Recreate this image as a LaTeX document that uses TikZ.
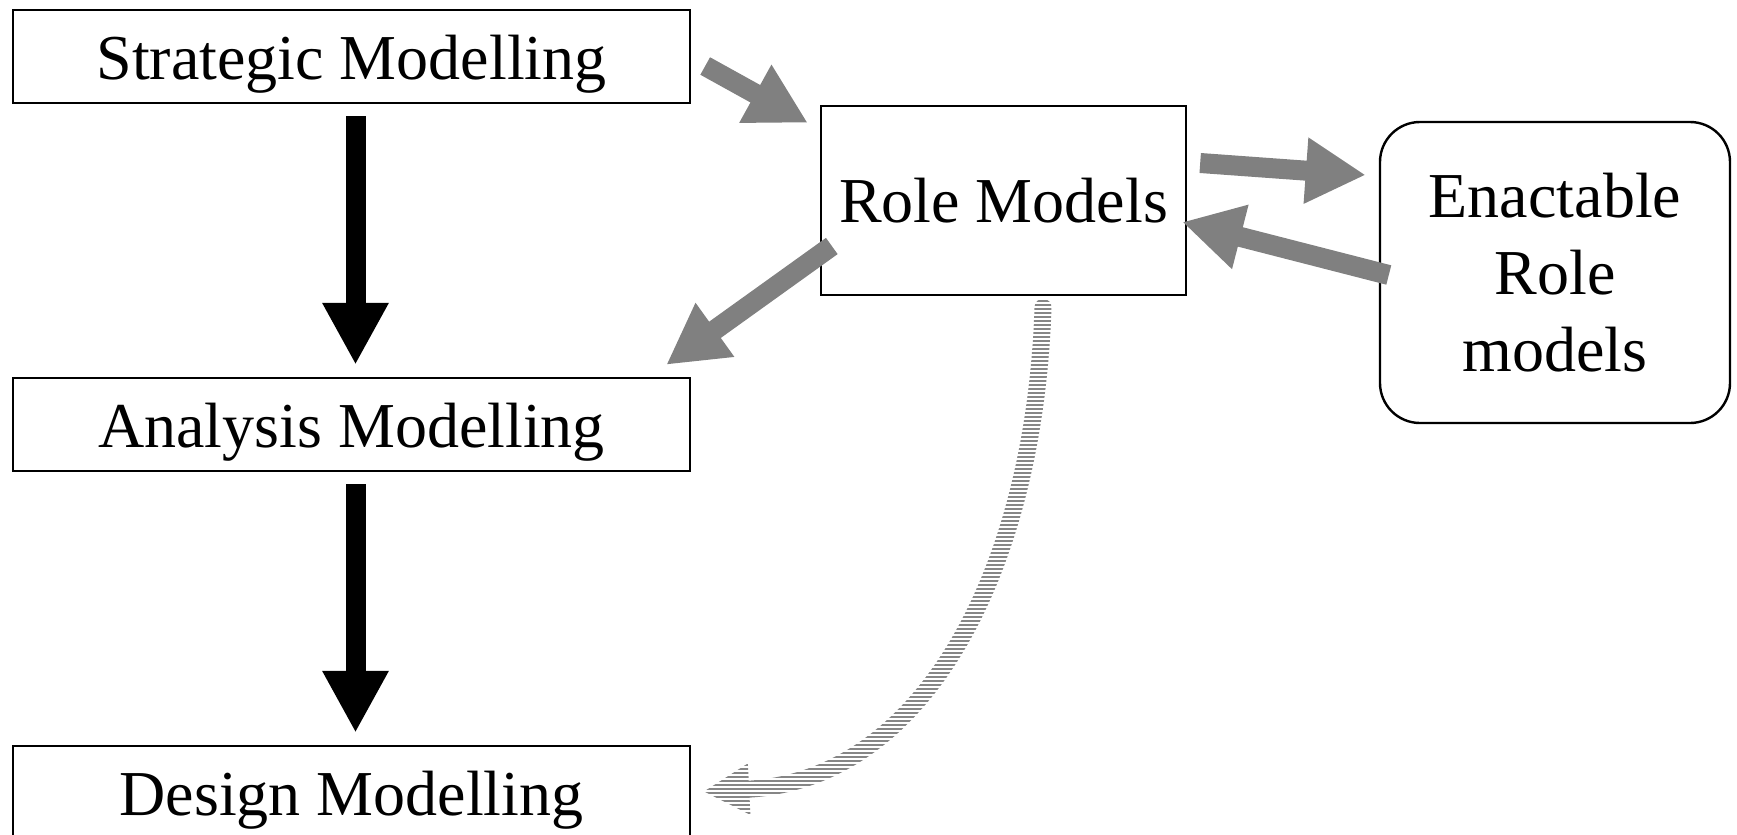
\documentclass[tikz,border=0pt]{standalone}
\usepackage{fontspec}
\setmainfont{Liberation Serif}
\usetikzlibrary{arrows.meta,patterns.meta}

\begin{document}
\begin{tikzpicture}[x=0.5pt,y=-0.5pt,font=\fontsize{32}{38.5}\selectfont,
  model/.style={draw,line width=1.2pt,minimum width=338.5pt,minimum height=46.5pt,inner sep=0pt,text height=30pt,text depth=7pt},
  down/.style={line width=10pt,-{Triangle[length=31pt,width=31pt]}},
  flow/.style={line width=10pt,gray,-{Triangle[length=30pt,width=31pt]}},
  hatched/.style={line width=8.5pt,gray!95,line cap=round,-{Triangle[length=23pt,width=24pt]}}]
  \useasboundingbox (0,0) rectangle (1737,835);
  \node[model] (SM) at (351.5,56.5) {Strategic Modelling};
  \node[model] (AM) at (351.5,424.5) {Analysis Modelling};
  \node[model] (DM) at (351.5,792.5) {Design Modelling};
  \node[draw,line width=1.2pt,minimum width=182.5pt,minimum height=94.5pt,inner sep=0pt] (RM) at (1003.5,200.5) {Role Models};
  \node[draw,line width=1.2pt,rounded corners=20pt,minimum width=175pt,minimum height=150.5pt,inner sep=0pt,align=center] (ERM) at (1555,272.5) {Enactable\\Role\\models};
  \coordinate (tip) at ([xshift=6pt,yshift=0.5pt]DM.east);
  % hatched connector
  \draw[hatched] ([xshift=19.75pt,yshift=-5.5pt]RM.south) .. controls (1035,560) and (930,780) .. (tip);
  \fill[pattern={Lines[angle=0,distance=2pt,line width=0.8pt]},pattern color=white,fill opacity=0.7] (694,298) rectangle (1070,815);
  \draw[down] ([xshift=2pt]SM.south) ++(0,12) -- ([xshift=2pt,yshift=6pt]AM.north);
  \draw[down] ([xshift=2pt]AM.south) ++(0,12) -- ([xshift=2pt,yshift=6pt]DM.north);
  \draw[flow] ([xshift=7pt,yshift=-4.75pt]SM.east) -- ([xshift=-6pt,yshift=-9pt]RM.north west);
  \draw[flow] ([xshift=6.5pt,yshift=18.75pt]RM.east) -- ([xshift=-6.5pt,yshift=48.75pt]ERM.west);
  \draw[flow] ([xshift=5pt,yshift=-1.25pt]ERM.west) -- ([xshift=-2.5pt,yshift=-10.75pt]RM.east);
  \draw[flow] ([xshift=6pt,yshift=-22.75pt]RM.west) -- ([xshift=-12.5pt,yshift=6pt]AM.north east);
\end{tikzpicture}
\end{document}
